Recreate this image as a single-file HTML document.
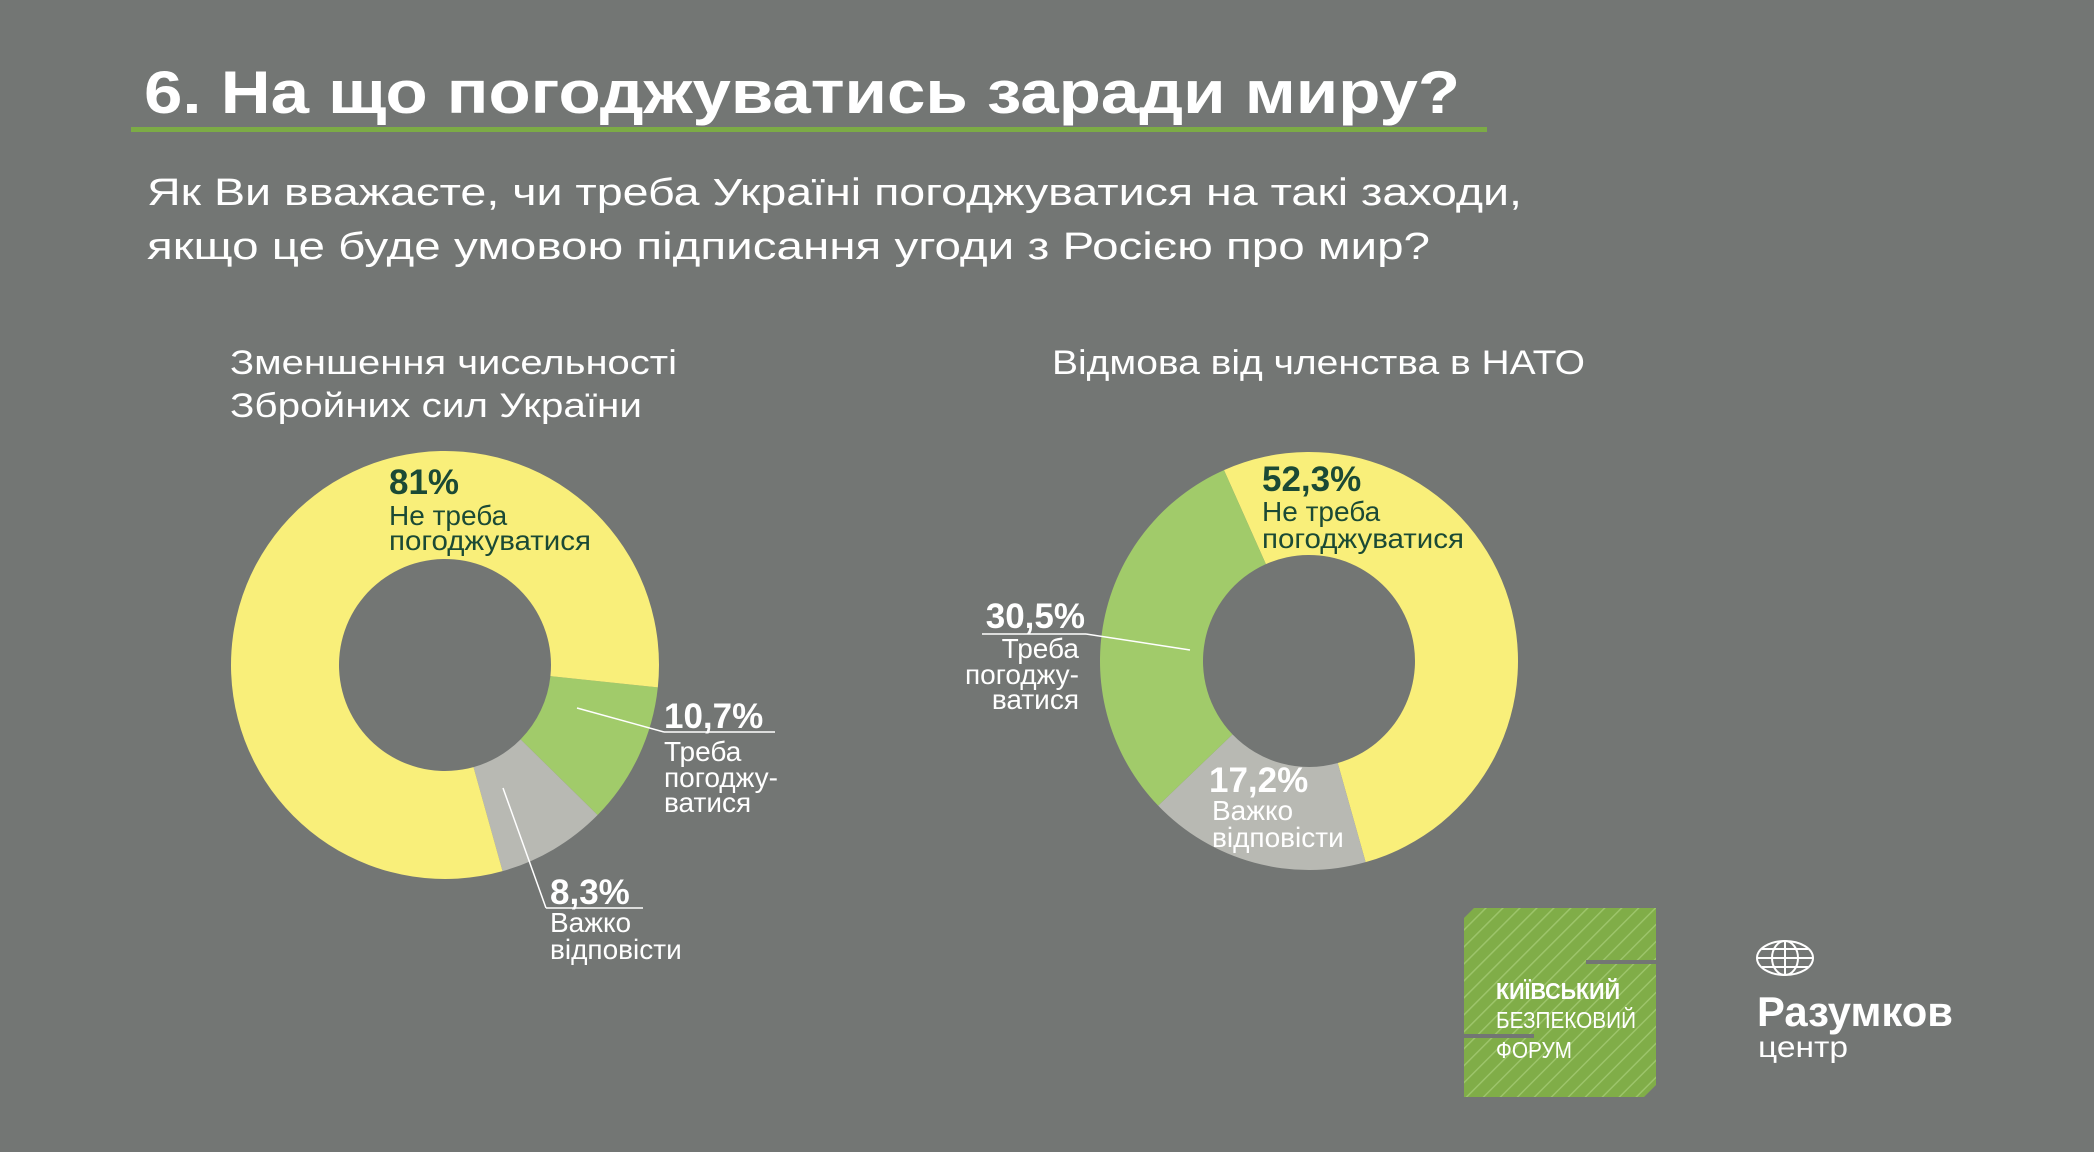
<!DOCTYPE html>
<html><head><meta charset="utf-8">
<style>
html,body{margin:0;padding:0;background:#737674;}
svg{display:block;font-family:"Liberation Sans","DejaVu Sans",sans-serif;}
</style></head>
<body>
<svg id="chart" width="2094" height="1152" viewBox="0 0 2094 1152" xmlns="http://www.w3.org/2000/svg">
<rect width="2094" height="1152" fill="#737674"/>
<text x="144" y="113" font-size="60" font-weight="bold" fill="#fff" textLength="1316" lengthAdjust="spacingAndGlyphs">6. На що погоджуватись заради миру?</text>
<rect x="131" y="127" width="1356" height="5" fill="#7cab46"/>
<text x="147" y="205" font-size="38" fill="#fff" textLength="1375" lengthAdjust="spacingAndGlyphs">Як Ви вважаєте, чи треба Україні погоджуватися на такі заходи,</text>
<text x="147" y="259" font-size="38" fill="#fff" textLength="1283" lengthAdjust="spacingAndGlyphs">якщо це буде умовою підписання угоди з Росією про мир?</text>

<text x="230" y="374" font-size="34" fill="#fff" textLength="447" lengthAdjust="spacingAndGlyphs">Зменшення чисельності</text>
<text x="230" y="417" font-size="34" fill="#fff" textLength="412" lengthAdjust="spacingAndGlyphs">Збройних сил України</text>
<text x="1052" y="374" font-size="34" fill="#fff" textLength="533" lengthAdjust="spacingAndGlyphs">Відмова від членства в НАТО</text>

<g id="donuts"></g>

<g font-size="28">
<text x="389" y="494" font-size="35" font-weight="bold" fill="#1b4a35">81%</text>
<text x="389" y="525" fill="#1b4a35">Не треба</text>
<text x="389" y="550" fill="#1b4a35" textLength="202" lengthAdjust="spacingAndGlyphs">погоджуватися</text>
<line x1="577" y1="708" x2="664" y2="732" stroke="#fff" stroke-width="1.5"/>
<line x1="664" y1="732" x2="775" y2="732" stroke="#fff" stroke-width="1.5"/>
<text x="664" y="728" font-size="35" font-weight="bold" fill="#fff">10,7%</text>
<text x="664" y="761" fill="#fff">Треба</text>
<text x="664" y="787" fill="#fff">погоджу-</text>
<text x="664" y="812" fill="#fff">ватися</text>
<line x1="503" y1="788" x2="546" y2="908" stroke="#fff" stroke-width="1.5"/>
<line x1="546" y1="908" x2="643" y2="908" stroke="#fff" stroke-width="1.5"/>
<text x="550" y="904" font-size="35" font-weight="bold" fill="#fff">8,3%</text>
<text x="550" y="932" fill="#fff">Важко</text>
<text x="550" y="959" fill="#fff">відповісти</text>
</g>

<g font-size="28">
<text x="1262" y="491" font-size="35" font-weight="bold" fill="#1b4a35">52,3%</text>
<text x="1262" y="521" fill="#1b4a35">Не треба</text>
<text x="1262" y="548" fill="#1b4a35" textLength="202" lengthAdjust="spacingAndGlyphs">погоджуватися</text>
<line x1="982" y1="634" x2="1086" y2="634" stroke="#fff" stroke-width="1.5"/>
<line x1="1086" y1="634" x2="1190" y2="650" stroke="#fff" stroke-width="1.5"/>
<text x="1085" y="628" text-anchor="end" font-size="35" font-weight="bold" fill="#fff">30,5%</text>
<text x="1079" y="658" text-anchor="end" fill="#fff">Треба</text>
<text x="1079" y="684" text-anchor="end" fill="#fff">погоджу-</text>
<text x="1079" y="709" text-anchor="end" fill="#fff">ватися</text>
<text x="1209" y="792" font-size="35" font-weight="bold" fill="#fff">17,2%</text>
<text x="1212" y="820" fill="#fff">Важко</text>
<text x="1212" y="847" fill="#fff">відповісти</text>
</g>

<defs>
<pattern id="hatch" width="12" height="12" patternUnits="userSpaceOnUse" patternTransform="rotate(45)">
<rect width="12" height="12" fill="#80ad48"/><rect width="1.5" height="12" fill="#9cc46a"/>
</pattern>
</defs>
<g>
<polygon points="1474,908 1656,908 1656,1085 1644,1097 1464,1097 1464,918" fill="url(#hatch)"/>
<rect x="1586" y="960" width="70" height="4" fill="#737674"/>
<rect x="1464" y="1034" width="70" height="4" fill="#737674"/>
<text x="1496" y="999" font-size="23" font-weight="bold" fill="#fff" textLength="124" lengthAdjust="spacingAndGlyphs">КИЇВСЬКИЙ</text>
<text x="1496" y="1028" font-size="23" fill="#fff" textLength="140" lengthAdjust="spacingAndGlyphs">БЕЗПЕКОВИЙ</text>
<text x="1496" y="1058" font-size="23" fill="#fff" textLength="76" lengthAdjust="spacingAndGlyphs">ФОРУМ</text>
</g>
<g>
<g fill="none" stroke="#fff" stroke-width="2">
<ellipse cx="1785" cy="958" rx="28" ry="17"/>
<ellipse cx="1785" cy="958" rx="13" ry="17"/>
<line x1="1785" y1="941" x2="1785" y2="975"/>
<line x1="1757" y1="958" x2="1813" y2="958"/>
<line x1="1762" y1="949" x2="1808" y2="949"/>
<line x1="1762" y1="967" x2="1808" y2="967"/>
</g>
<text x="1757" y="1026" font-size="42" font-weight="bold" fill="#fff" textLength="196" lengthAdjust="spacingAndGlyphs">Разумков</text>
<text x="1758" y="1057" font-size="30" fill="#fff" textLength="90" lengthAdjust="spacingAndGlyphs">центр</text>
</g>
</svg>
<script>
const leftCategories = ["Не треба погоджуватися", "Треба погоджуватися", "Важко відповісти"];
const leftValues = [81, 10.7, 8.3];
const rightCategories = ["Не треба погоджуватися", "Треба погоджуватися", "Важко відповісти"];
const rightValues = [52.3, 30.5, 17.2];

const NS = "http://www.w3.org/2000/svg";
const colors = {"Не треба погоджуватися":"#f9ef7a","Треба погоджуватися":"#a1cb6a","Важко відповісти":"#b8b9b3"};
function pt(cx, cy, r, deg){const a = deg*Math.PI/180; return [cx + r*Math.sin(a), cy - r*Math.cos(a)];}
function drawDonut(cats, vals, order, startDeg, cx, cy, R, r, prefix){
  const g = document.getElementById('donuts');
  const total = vals.reduce((a,b)=>a+b,0);
  let ang = startDeg;
  order.forEach(i=>{
    const sweep = vals[i]/total*360;
    const a0 = ang, a1 = ang + sweep;
    const large = sweep > 180 ? 1 : 0;
    const p0 = pt(cx,cy,R,a0), p1 = pt(cx,cy,R,a1), q1 = pt(cx,cy,r,a1), q0 = pt(cx,cy,r,a0);
    const d = `M${p0[0]},${p0[1]} A${R},${R} 0 ${large} 1 ${p1[0]},${p1[1]} L${q1[0]},${q1[1]} A${r},${r} 0 ${large} 0 ${q0[0]},${q0[1]} Z`;
    const path = document.createElementNS(NS,'path');
    path.setAttribute('d', d);
    path.setAttribute('fill', colors[cats[i]]);
    
    
    g.appendChild(path);
    ang = a1;
  });
}
drawDonut(leftCategories, leftValues, [1,2,0], 96, 445, 665, 214, 106, 'left');
drawDonut(rightCategories, rightValues, [0,2,1], -24, 1309, 661, 209, 106, 'right');
</script>
</body></html>
